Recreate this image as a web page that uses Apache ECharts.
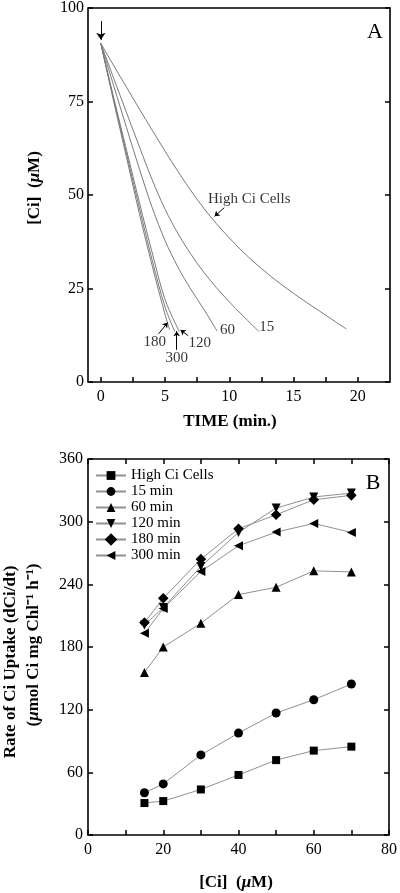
<!DOCTYPE html>
<html><head><meta charset="utf-8">
<script src="https://cdn.jsdelivr.net/npm/echarts@6/dist/echarts.min.js"></script>
<style>html,body{margin:0;padding:0;background:#fff}#c{width:400px;height:893px}</style>
</head><body><div id="c"></div>
<script>
const FONT = '"Liberation Serif", "Times New Roman", serif';

// ---------- Panel A : [time (min), Ci (µM)] ----------
const curveHigh = [[0,90.5],[1,84.6],[2,78.8],[3,73],[4,67.3],[5,61.7],[6,56.3],[7,51.2],[8,46.5],[9,42.3],[10,38.5],[11,35],[12,31.8],[13,28.9],[14,26.2],[15,23.7],[16,21.3],[17,19],[18,16.7],[19.1,14.2]];
const curve15  = [[0,90.5],[1,81.2],[2,72],[3,62.9],[4,54],[5,46.2],[6,39.7],[7,34.2],[8,29.4],[9,25.2],[10,21.4],[11,17.9],[12.3,13.5]];
const curve60  = [[0,90.5],[1,79.2],[2,68],[3,57],[4,46.6],[5,37.8],[6,30.7],[7,24.8],[8,19.5],[9.05,13.6]];
const curve120 = [[0,90.5],[1,76],[2,62],[3,48],[4,34.5],[5,22],[6.1,13.5]];
const curve300 = [[0,90.5],[1,75.5],[2,61],[3,46.5],[4,32.5],[5,20],[5.75,13.5]];
const curve180 = [[0,90.5],[1,75],[2,60],[3,45],[4,31],[5,18],[5.35,14]];

const ticksAx = [0,5,10,15,20];
const minorAx = [0,2.5,5,7.5,10,12.5,15,17.5,20];
const ticksAy = [0,25,50,75,100];

// annotation labels in panel A: [time, Ci, text]
const labelsA = [[11.55,48.9,'High Ci Cells'],[4.2,10.6,'180'],[5.9,6.4,'300'],[7.7,10.4,'120'],[9.85,13.8,'60'],[12.9,14.6,'15']];
// annotation arrows in panel A: [[from],[to]]
const arrowsA = [[[9.6,46.6],[8.85,44.3]],[[4.5,12.9],[5.2,15.9]],[[5.9,8.6],[5.9,13.6]],[[6.8,12.4],[6.2,13.9]]];
const startArrow = [[0,96.5],[0,91.5]];

// ---------- Panel B ----------
const ciB = [15,20,30,40,50,60,70];
const rateHigh = [30.6,32.5,43.6,57.5,71.7,80.8,84.6];
const rate15   = [40.4,48.9,76.7,97.6,116.8,129.5,144.6];
const rate60   = [155.7,180,202.7,230.2,237.2,252.9,251.9];
const rate120  = [201,217.7,257,289.7,313,323.6,327.4];
const rate180  = [203.3,226.7,264.1,293.2,306.6,321,325.2];
const rate300  = [193.1,216.8,252.3,276.9,290,298.3,289.7];
const namesB = ['High Ci Cells','15 min','60 min','120 min','180 min','300 min'];

const ticksBx = [0,20,40,60,80];
const minorBx = [0,10,20,30,40,50,60,70,80];
const ticksBy = [0,60,120,180,240,300,360];

const chart = echarts.init(document.getElementById('c'), null, {renderer:'canvas'});

const tickStyle = {color:'#000', width:1.5};
const labelStyle = {fontFamily:FONT, fontSize:16, color:'#000'};
const noLine = {show:false, onZero:false};

function curveSeries(data){
  return {type:'line', xAxisIndex:0, yAxisIndex:0, data:data, smooth:0.35, showSymbol:false,
    lineStyle:{color:'#7a7a7a', width:1}, silent:true, animation:false, z:3};
}
const pair = (ys) => ciB.map((x,i)=>[x, ys[i]]);
function bSeries(name, ys, symbol, rot, size){
  return {type:'line', name:name, xAxisIndex:1, yAxisIndex:2, data:pair(ys),
    symbol:symbol, symbolRotate:rot, symbolSize:size, showSymbol:true,
    lineStyle:{color:'#909090', width:1}, itemStyle:{color:'#000'}, animation:false, z:3};
}

const option = {
  backgroundColor:'#fff',
  animation:false,
  grid:[
    {left:88, top:6, width:302, height:376, show:true, borderColor:'#000', borderWidth:1.6, backgroundColor:'transparent'},
    {left:88, top:459, width:302, height:376, show:true, borderColor:'#000', borderWidth:1.6, backgroundColor:'transparent'}
  ],
  xAxis:[
    {gridIndex:0, type:'value', min:-1, max:22.5, axisLine:noLine, splitLine:{show:false},
     axisTick:{inside:true, length:5, customValues:minorAx, lineStyle:tickStyle},
     axisLabel:Object.assign({customValues:ticksAx, margin:7}, labelStyle)},
    {gridIndex:1, type:'value', min:0, max:80, axisLine:noLine, splitLine:{show:false},
     axisTick:{inside:true, length:5, customValues:minorBx, lineStyle:tickStyle},
     axisLabel:Object.assign({customValues:ticksBx, margin:7}, labelStyle)},
    {gridIndex:1, type:'value', position:'top', min:0, max:80, axisLine:noLine, splitLine:{show:false},
     axisTick:{inside:true, length:5, customValues:minorBx, lineStyle:tickStyle},
     axisLabel:{show:false}}
  ],
  yAxis:[
    {gridIndex:0, type:'value', min:0, max:100, interval:25, axisLine:noLine, splitLine:{show:false},
     axisTick:{inside:true, length:5, lineStyle:tickStyle},
     axisLabel:Object.assign({customValues:ticksAy, margin:4}, labelStyle)},
    {gridIndex:0, type:'value', position:'right', min:0, max:100, interval:25, axisLine:noLine, splitLine:{show:false},
     axisTick:{inside:true, length:5, lineStyle:tickStyle}, axisLabel:{show:false}},
    {gridIndex:1, type:'value', min:0, max:360, interval:60, axisLine:noLine, splitLine:{show:false},
     axisTick:{inside:true, length:5, lineStyle:tickStyle},
     axisLabel:Object.assign({customValues:ticksBy, margin:5}, labelStyle)},
    {gridIndex:1, type:'value', position:'right', min:0, max:360, interval:60, axisLine:noLine, splitLine:{show:false},
     axisTick:{inside:true, length:5, lineStyle:tickStyle}, axisLabel:{show:false}}
  ],
  legend:{
    data:namesB, orient:'vertical', left:95, top:468, padding:0, itemGap:1, itemWidth:30, itemHeight:11,
    textStyle:{fontFamily:FONT, fontSize:15, color:'#000', lineHeight:15}, selectedMode:false
  },
  series:[
    curveSeries(curveHigh), curveSeries(curve15), curveSeries(curve60),
    curveSeries(curve120), curveSeries(curve300), curveSeries(curve180),
    {type:'scatter', xAxisIndex:0, yAxisIndex:0, symbolSize:0, silent:true, animation:false,
     data:labelsA.map(l=>({value:[l[0],l[1]], name:l[2]})),
     label:{show:true, position:[0,0], align:'center', verticalAlign:'middle', formatter:'{b}',
            fontFamily:FONT, fontSize:15, color:'#000'},
     markLine:{silent:true, animation:false, label:{show:false}, symbol:['none','arrow'], symbolSize:5,
       lineStyle:{color:'#000', width:1, type:'solid'},
       data:arrowsA.map(a=>[{coord:a[0]},{coord:a[1]}]).concat([
         [{coord:startArrow[0], symbol:'none'},{coord:startArrow[1], symbol:'arrow', symbolSize:7}]
       ])}
    },
    bSeries(namesB[0], rateHigh, 'rect', 0, 8),
    bSeries(namesB[1], rate15, 'circle', 0, 9),
    bSeries(namesB[2], rate60, 'triangle', 0, 9),
    bSeries(namesB[3], rate120, 'triangle', 180, 9),
    bSeries(namesB[4], rate180, 'rect', 45, 7.5),
    bSeries(namesB[5], rate300, 'triangle', 90, 9)
  ],
  graphic:[
    {type:'text', x:375, y:32, style:{text:'A', font:'22px '+FONT, fill:'#000', align:'center', verticalAlign:'middle'}},
    {type:'text', x:373, y:483, style:{text:'B', font:'22px '+FONT, fill:'#000', align:'center', verticalAlign:'middle'}},
    {type:'text', x:230, y:422, style:{text:'TIME (min.)', font:'bold 17px '+FONT, fill:'#000', align:'center', verticalAlign:'middle'}},
    {type:'text', x:35, y:188, rotation:Math.PI/2,
     style:{text:'[Ci]  ({i|μ}M)', font:'bold 17px '+FONT, fill:'#000', align:'center', verticalAlign:'middle',
            rich:{i:{fontStyle:'italic', fontWeight:'bold', fontSize:17, fontFamily:FONT}}}},
    {type:'text', x:236, y:883, style:{text:'[Ci]  ({i|μ}M)', font:'bold 17px '+FONT, fill:'#000', align:'center', verticalAlign:'middle',
            rich:{i:{fontStyle:'italic', fontWeight:'bold', fontSize:17, fontFamily:FONT}}}},
    {type:'text', x:11, y:662, rotation:Math.PI/2,
     style:{text:'Rate of Ci Uptake (dCi/dt)', font:'bold 17px '+FONT, fill:'#000', align:'center', verticalAlign:'middle'}},
    {type:'text', x:34, y:645, rotation:Math.PI/2,
     style:{text:'({i|μ}mol Ci mg Chl⁻¹ h⁻¹)', font:'bold 17px '+FONT, fill:'#000', align:'center', verticalAlign:'middle',
            rich:{i:{fontStyle:'italic', fontWeight:'bold', fontSize:17, fontFamily:FONT}}}}
  ]
};
chart.setOption(option);
</script>
</body></html>
